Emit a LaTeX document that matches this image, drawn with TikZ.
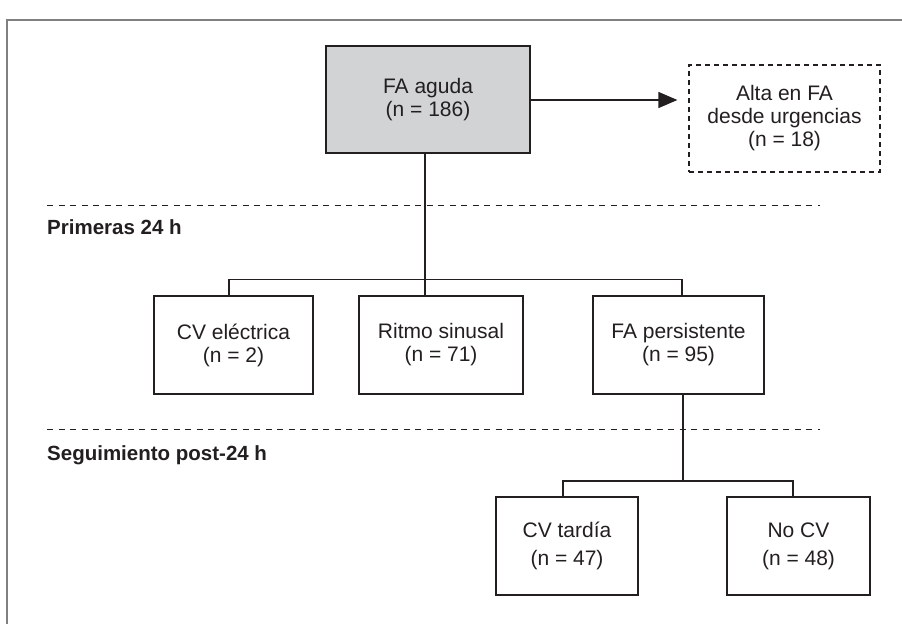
\documentclass[tikz,border=0pt]{standalone}
\usepackage{fontspec}
\setmainfont{Liberation Sans}
\usetikzlibrary{arrows.meta}
\definecolor{ink}{HTML}{231F20}
\definecolor{boxgrey}{HTML}{D1D3D4}
\definecolor{framegrey}{HTML}{808080}
\tikzset{
  box/.style={draw=ink, line width=1.4pt, align=center, inner sep=0pt,
    font=\fontsize{21}{23}\selectfont, text=ink},
  widebox/.style={box, font=\fontsize{21}{28}\selectfont},
  mainbox/.style={box, fill=boxgrey},
  dashbox/.style={box, dash pattern=on 5pt off 4pt, line width=1.2pt},
  conn/.style={draw=ink, line width=1.2pt},
  sep/.style={draw=ink, line width=1pt, dash pattern=on 6pt off 5.5pt},
  phase/.style={anchor=west, inner sep=0pt, text=ink,
    font=\fontsize{20.5}{22}\selectfont\bfseries},
}
\begin{document}
\begin{tikzpicture}[x=1pt,y=-1pt]
\useasboundingbox (0,0) rectangle (902,624);
\draw[framegrey, line width=2pt] (902,20) -- (7,20) -- (7,624);

\node[mainbox, minimum width=204pt, minimum height=107pt] (fa) at (428,99.5) {FA aguda\\(n = 186)};
\node[dashbox, minimum width=191pt, minimum height=107pt] (alta) at (784.5,118.5) {Alta en FA\\desde urgencias\\(n = 18)};

\node[box, minimum width=159pt, minimum height=98pt] (cve) at (233.5,345) {CV eléctrica\\(n = 2)};
\node[box, minimum width=164pt, minimum height=98pt] (rs) at (441,345) {Ritmo sinusal\\(n = 71)};
\node[box, minimum width=171pt, minimum height=98pt] (fap) at (678.5,345) {FA persistente\\(n = 95)};

\node[widebox, minimum width=142pt, minimum height=98pt] (cvt) at (567,546) {CV tardía\\(n = 47)};
\node[widebox, minimum width=143pt, minimum height=98pt] (nocv) at (798.5,546) {No CV\\(n = 48)};

\coordinate (s1a) at (47,205); \coordinate (s1b) at (820,205);
\coordinate (s2a) at (47,429); \coordinate (s2b) at (820,429);
\draw[sep] (s1a) -- (s1b);
\draw[sep] (s2a) -- (s2b);
\node[phase] (p1) at (47,227) {Primeras 24 h};
\node[phase] (p2) at (47,455) {Seguimiento post-24 h};

\coordinate (b1) at (425,279.5);
\coordinate (b2) at (683,481);

\draw[conn, -{Triangle[length=19pt,width=16pt]}, shorten >=11pt] (fa.east |- 0,100) -- (alta.west |- 0,100);
\draw[conn] ([xshift=-3pt]fa.south) -- ([xshift=-3pt]fa.south |- rs.north);
\draw[conn] ([xshift=-4.5pt]cve.north) |- (b1) -| ([xshift=3.5pt]fap.north);
\draw[conn] ([xshift=4.5pt]fap.south) -- (b2);
\draw[conn] ([xshift=-4pt]cvt.north) |- (b2) -| ([xshift=-5.5pt]nocv.north);
\end{tikzpicture}
\end{document}
